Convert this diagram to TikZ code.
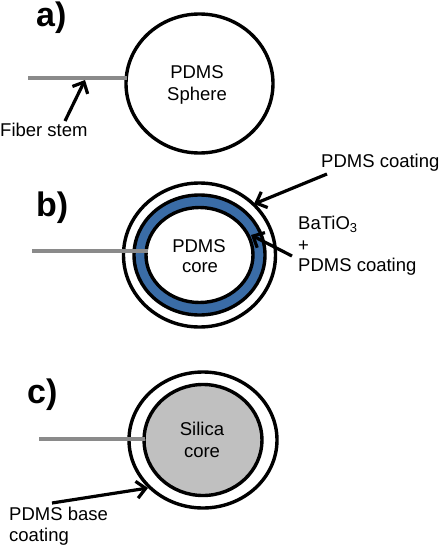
\documentclass[tikz,border=0pt]{standalone}
\usepackage{fontspec}
\setmainfont{Liberation Sans}
\usetikzlibrary{arrows.meta,shapes.geometric}
\definecolor{stemgray}{RGB}{138,138,138}
\definecolor{coregray}{RGB}{192,192,192}
\definecolor{ringblue}{RGB}{58,108,166}
\begin{document}
\begin{tikzpicture}[x=1pt,y=-1pt,
  lbl/.style={font=\fontsize{34}{40}\selectfont\bfseries, anchor=base west, inner sep=0pt},
  txt/.style={font=\fontsize{18.5}{22}\selectfont, inner sep=0pt},
  ctxt/.style={txt, anchor=base},
  ltxt/.style={txt, anchor=base west},
  shell/.style={ellipse, draw=black, line width=3.4pt, fill=white, inner sep=0pt, outer sep=0pt},
  stem/.style={draw=stemgray, line width=3.2pt},
  pointer/.style={draw=black, line width=3.2pt, -{Straight Barb[length=9pt,width=17pt]}}
]
\useasboundingbox (0,0) rectangle (440,546);
\fill[white] (0,0) rectangle (440,546);

% ---------- a) ----------
\node[lbl] (la) at (36,26) {a)};
\node[shell, minimum width=147pt, minimum height=139pt] (sa) at (199.5,83.5) {};
\coordinate (sta) at (28,78);
\coordinate (eta) at (126.5,78);
\draw[stem] (sta) -- (eta);
\node[ctxt] (ta1) at (197,78) {PDMS};
\node[ctxt] (ta2) at (197,100) {Sphere};
\node[ltxt] (fs) at (0,136) {Fiber stem};
\coordinate (fst) at (65,121);
\coordinate (fsh) at (85,80);
\draw[pointer] (fst) -- (fsh);

% ---------- b) ----------
\node[lbl] (lb) at (36,216) {b)};
\node[shell, minimum width=152pt, minimum height=144pt] (sb) at (199.5,255) {};
\node[shell, fill=ringblue, minimum width=131pt, minimum height=120pt] (rb) at (199.5,255) {};
\node[shell, minimum width=107pt, minimum height=95pt] (cb) at (199.5,255) {};
\coordinate (stb) at (32,251);
\coordinate (etb) at (148,251);
\draw[stem] (stb) -- (etb);
\node[ctxt] (tb1) at (199,252) {PDMS};
\node[ctxt] (tb2) at (200,272) {core};
\node[ltxt] (pc) at (321,167) {PDMS coating};
\coordinate (pct) at (327,174);
\coordinate (pch) at (254,204);
\draw[pointer] (pct) -- (pch);
\node[ltxt] (bt1) at (298,229) {BaTiO\textsubscript{3}};
\node[ltxt] (bt2) at (298,251) {+};
\node[ltxt] (bt3) at (298,271) {PDMS coating};
\coordinate (btt) at (292,256);
\coordinate (bth) at (251,235);
\draw[pointer] (btt) -- (bth);

% ---------- c) ----------
\node[lbl] (lc) at (27,403) {c)};
\node[shell, minimum width=148pt, minimum height=136pt] (sc) at (203,440) {};
\node[shell, fill=coregray, minimum width=118pt, minimum height=111pt] (cc) at (203,440) {};
\coordinate (stc) at (39,439);
\coordinate (etc) at (144.5,439);
\draw[stem] (stc) -- (etc);
\node[ctxt] (tc1) at (202,435) {Silica};
\node[ctxt] (tc2) at (202,457) {core};
\node[ltxt] (pb1) at (9,520) {PDMS base};
\node[ltxt] (pb2) at (9,541) {coating};
\coordinate (pbt) at (52,503);
\coordinate (pbh) at (148,488);
\draw[pointer] (pbt) -- (pbh);
\end{tikzpicture}
\end{document}
